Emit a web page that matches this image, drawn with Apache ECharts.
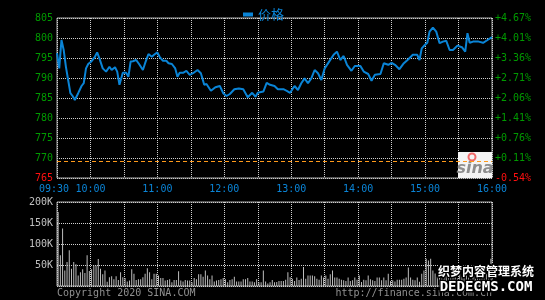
<!DOCTYPE html>
<html>
<head>
<meta charset="utf-8">
<script src="https://cdn.jsdelivr.net/npm/echarts@6/dist/echarts.min.js"></script>
<style>html,body{margin:0;padding:0;background:#000;}#c{width:545px;height:300px;}</style>
</head>
<body>
<div id="c"></div>
<script>
// minutes since 09:30 open
const priceMinutes = [0,2,4,6,8,10,12,14,16,19,22,24,26,28,31,34,36,38,41,44,47,49,52,54,56,59,62,64,66,68,71,74,77,79,82,85,87,90,92,95,98,100,103,106,108,110,113,116,119,122,126,129,132,134,138,142,146,149,152,155,159,163,167,171,175,178,180,185,188,191,195,198,203,206,209,213,216,219,222,225,228,231,234,237,240,244,248,251,254,257,260,264,267,272,275,279,282,285,290,293,297,300,303,307,311,315,319,323,325,327,330,332,334,337,340,343,346,349,352,355,359,363,366,368,370,373,378,382,386,390];
const prices = [796.2,792.4,799.5,797.0,792.8,789.5,786.2,785.5,784.5,786.2,788.0,788.7,792.4,793.5,794.2,795.3,796.4,794.9,792.4,791.6,792.8,792.0,792.7,791.6,788.3,791.3,791.3,790.3,794.1,794.2,794.5,793.3,792.0,793.7,796.0,795.3,795.8,796.4,795.3,794.3,794.3,793.7,793.5,792.4,790.3,791.3,791.3,791.8,790.8,791.2,792.0,791.2,788.3,788.5,786.8,787.7,788.0,786.2,785.5,786.0,787.2,787.4,787.2,785.2,786.3,785.3,786.3,786.6,788.8,788.3,788.0,787.2,787.2,786.8,786.3,788.0,787.0,788.7,789.9,788.7,789.9,792.0,791.2,789.5,792.4,794.1,795.8,796.6,794.5,795.5,793.3,791.8,793.0,793.0,791.6,791.0,789.3,790.8,791.0,793.7,793.3,793.8,793.3,792.2,793.7,794.7,795.8,795.8,794.5,797.4,798.3,798.8,801.6,802.6,801.6,798.7,799.1,799.3,797.0,797.0,798.1,797.7,796.6,801.2,798.8,799.1,799.1,798.8,799.5,800.2];
const prevClose = 769.15;
// volume per 2-minute bar, in thousands
const volumesK = [
176,73,137,37,57,85,41,57,52,25,
33,40,31,73,36,40,49,49,64,41,
28,37,10,21,23,16,23,14,33,21,
19,11,13,40,29,14,16,16,21,29,
42,33,16,29,29,25,19,19,13,14,
16,9,14,14,35,13,11,14,13,13,
9,19,16,28,28,22,37,25,16,25,
11,13,14,16,19,16,9,14,16,22,
11,11,11,16,16,19,11,11,9,16,
9,9,37,11,6,9,14,9,
9.5,12,12,12,15,33,21,17.5,12,20,14,
17.5,45,17.5,25,25,25,23,17.5,15,25,
20,25,17.5,28,37,20,20,17.5,15,13.5,12,
20,12,13.5,20,15,25,9.5,15,13.5,25,16,
13.5,12,20,20,13.5,20,13.5,29,12,13.5,11,
15,15,15,17.5,20,44,20,15,13.5,20,10,
29,37,65,61,65,37,
30,22,35,18,25,40,28,20,33,24,18,30,22,27,35,20,16,25,30,22,18,28,20,35,30,65
];
const priceTicks = [765,770,775,780,785,790,795,800,805];
const pctTicks = ['-0.54%','+0.11%','+0.76%','+1.41%','+2.06%','+2.71%','+3.36%','+4.01%','+4.67%'];
const timeTicks = {0:'09:30',30:'10:00',90:'11:00',150:'12:00',210:'13:00',270:'14:00',330:'15:00',390:'16:00'};
const volTicks = {50:'50K',100:'100K',150:'150K',200:'200K'};

const BLUE = '#0a84d6', GREEN = '#009a00', RED = '#ff1010', GRAY = '#c0c0c0';
const MONO = 'DejaVu Sans Mono';
const dotted = {color:'#d0d0d0', type:[1,1], width:1};

const chart = echarts.init(document.getElementById('c'), null, {renderer:'canvas'});
chart.setOption({
  backgroundColor:'#000',
  animation:false,
  legend:{data:['价格'], top:3, left:238, icon:'rect', itemWidth:10, itemHeight:4,
    textStyle:{color:BLUE, fontSize:13, fontFamily:'Noto Sans CJK SC'}},
  grid:[
    {left:57, right:53, top:18, height:160, show:true, borderColor:'#a8a8a8', borderWidth:1, backgroundColor:'transparent'},
    {left:57, right:53, top:202, height:84, show:true, borderColor:'#a8a8a8', borderWidth:1, backgroundColor:'transparent'}
  ],
  xAxis:[
    {gridIndex:0, type:'value', min:0, max:390, interval:30,
     axisLine:{show:false}, axisTick:{show:false},
     splitLine:{show:true, lineStyle:dotted},
     axisLabel:{color:BLUE, fontFamily:MONO, fontSize:10, margin:6, showMinLabel:true, showMaxLabel:true,
       formatter:v=>v===0?'{first|'+timeTicks[v]+'}':(timeTicks[v]||''),
       rich:{first:{color:BLUE, fontFamily:MONO, fontSize:10, padding:[0,6,0,0]}}}},
    {gridIndex:1, type:'value', min:0, max:390, interval:30,
     axisLine:{show:false}, axisTick:{show:false},
     splitLine:{show:true, lineStyle:dotted}, axisLabel:{show:false}}
  ],
  yAxis:[
    {gridIndex:0, type:'value', min:765, max:805, interval:5, position:'left',
     axisLine:{show:false}, axisTick:{show:false},
     splitLine:{show:true, lineStyle:dotted},
     axisLabel:{fontFamily:MONO, fontSize:10, margin:4,
       color:v=>(+v<prevClose?RED:GREEN),
       formatter:v=>String(priceTicks[priceTicks.indexOf(v)])}},
    {gridIndex:0, type:'value', min:765, max:805, interval:5, position:'right',
     axisLine:{show:false}, axisTick:{show:false}, splitLine:{show:false},
     axisLabel:{fontFamily:MONO, fontSize:10, margin:3,
       color:v=>(+v<prevClose?RED:GREEN),
       formatter:v=>pctTicks[priceTicks.indexOf(v)]}},
    {gridIndex:1, type:'value', min:0, max:200, interval:50, position:'left',
     axisLine:{show:false}, axisTick:{show:false},
     splitLine:{show:true, lineStyle:dotted},
     axisLabel:{color:GRAY, fontFamily:MONO, fontSize:10, margin:4, formatter:v=>volTicks[v]||''}}
  ],
  series:[
    {name:'价格', type:'line', xAxisIndex:0, yAxisIndex:0, showSymbol:false, symbol:'none',
     data:priceMinutes.map((m,i)=>[m,prices[i]]),
     lineStyle:{color:BLUE, width:2}, itemStyle:{color:BLUE}, z:5,
     markLine:{silent:true, symbol:'none', label:{show:false},
       lineStyle:{color:'#ff9a1a', type:[4,3], width:1},
       data:[{yAxis:prevClose}]}},
    {name:'成交量', type:'bar', xAxisIndex:1, yAxisIndex:2, barWidth:1,
     data:volumesK.map((v,i)=>[i*2+1,v]),
     itemStyle:{color:'#bdbdbd'}}
  ],
  graphic:[
    {type:'rect', z:1, shape:{x:458, y:152, width:34, height:26}, style:{fill:'#f4f4f4'}},
    {type:'circle', z:1, shape:{cx:472, cy:157, r:3.5}, style:{fill:'none', stroke:'#f06a6a', lineWidth:2}},
    {type:'text', z:1, x:475, y:169, style:{text:'sina', font:'italic bold 16px "DejaVu Sans"', fill:'#8e8e8e', align:'center', verticalAlign:'middle'}},
    {type:'text', x:57, y:293, style:{text:'Copyright 2020 SINA.COM', font:'10px "DejaVu Sans Mono"', fill:'#909090', align:'left', verticalAlign:'middle'}},
    {type:'text', x:492, y:293, style:{text:'http://finance.sina.com.cn', font:'10px "DejaVu Sans Mono"', fill:'#909090', align:'right', verticalAlign:'middle'}},
    {type:'text', z:10, x:486, y:271, style:{text:'织梦内容管理系统', font:'bold 12px "Noto Sans CJK SC"', fill:'#ffffff', stroke:'#000', lineWidth:3, align:'center', verticalAlign:'middle'}},
    {type:'text', z:10, x:486, y:287, style:{text:'DEDECMS.COM', font:'bold 14px "DejaVu Sans Mono"', fill:'#ffffff', stroke:'#000', lineWidth:3, align:'center', verticalAlign:'middle'}}
  ]
});
</script>
</body>
</html>
